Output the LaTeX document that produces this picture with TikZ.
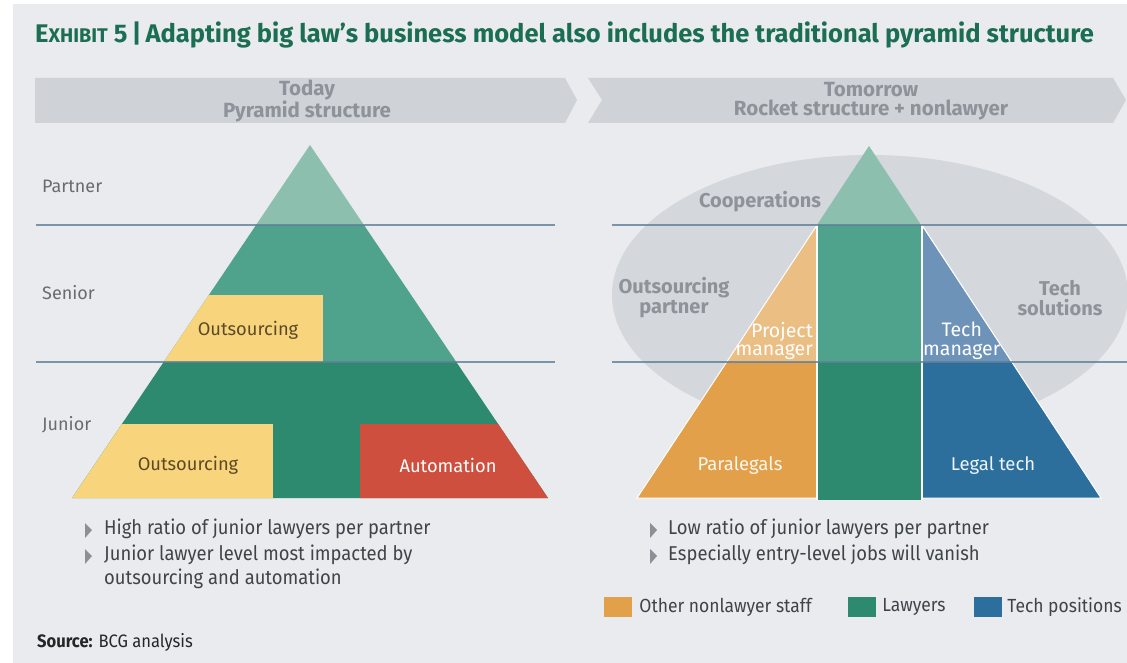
\documentclass[tikz,border=0pt]{standalone}
\usepackage{fontspec}
\setmainfont{Fira Sans}
\newfontfamily\narrowfont[FakeStretch=0.92]{Fira Sans}
\usetikzlibrary{positioning}

\definecolor{panelgray}{HTML}{E9EBEE}
\definecolor{bannergray}{HTML}{CFD3D8}
\definecolor{ellipsegray}{HTML}{D4D7DC}
\definecolor{titlegreen}{HTML}{1B6E51}
\definecolor{bannertext}{HTML}{8E939A}
\definecolor{labelgray}{HTML}{676C73}
\definecolor{lineblue}{HTML}{5F7F99}
\definecolor{greentop}{HTML}{8CBFAD}
\definecolor{greenmid}{HTML}{4FA38D}
\definecolor{greenlow}{HTML}{2E8A6F}
\definecolor{yellowbox}{HTML}{F8D47D}
\definecolor{outstext}{HTML}{5C4A26}
\definecolor{redbox}{HTML}{CE4F3D}
\definecolor{orangelight}{HTML}{EBBE84}
\definecolor{orangelow}{HTML}{E1A049}
\definecolor{bluelight}{HTML}{6D93B9}
\definecolor{bluelow}{HTML}{2C6E9C}
\definecolor{bullettext}{HTML}{3F444A}
\definecolor{bulletgray}{HTML}{8C9096}

\begin{document}
\begin{tikzpicture}[x=1pt, y=-1pt]
        \tikzstyle{lvl_label}  = [anchor=west, text=labelgray, inner sep=0pt, font=\fontsize{18}{20}\selectfont]
        \tikzstyle{banner_txt} = [align=center, text=bannertext, font=\bfseries\fontsize{20.5}{19.5}\selectfont]
        \tikzstyle{box_txt}    = [font=\fontsize{18.3}{20}\selectfont]
        \tikzstyle{cloud_txt}  = [align=center, text=bannertext, font=\bfseries\fontsize{20}{20}\selectfont]
        \tikzstyle{role_txt}   = [text=white, inner sep=0pt, font=\fontsize{19.5}{18.5}\selectfont]
        \tikzstyle{bullet_txt} = [anchor=base west, text=bullettext, inner sep=0pt, font=\narrowfont\fontsize{20}{24}\selectfont]
        \tikzstyle{key_txt}    = [anchor=west, text=bullettext, inner sep=0pt, font=\narrowfont\fontsize{19}{22}\selectfont]
        \tikzstyle{lvl_line}   = [draw=lineblue, line width=1.3pt, opacity=0.8]
        \tikzstyle{white_gap}  = [draw=white, line width=2.5pt]
        \tikzstyle{key_box}    = [minimum width=28pt, minimum height=20pt, inner sep=0pt]

        \useasboundingbox (0,0) rectangle (1127,663);
        \fill[panelgray] (13,4) rectangle (1127,663);

        % title
        \node[anchor=base west, inner sep=0pt, text=titlegreen, font=\bfseries\fontsize{25.5}{28}\selectfont]
          at (35,43) (title) {E{\fontsize{19.8}{22}\selectfont XHIBIT} 5\,|\,Adapting big law’s business model also includes the traditional pyramid structure};

        % banners
        \fill[bannergray] (35,78) -- (565,78) -- (577,100) -- (565,123) -- (35,123) -- cycle;
        \fill[bannergray] (588,78) -- (1113,78) -- (1126,100) -- (1113,123) -- (588,123) -- (602,100) -- cycle;
        \node[banner_txt] at (307,101) (today)    {Today\\Pyramid structure};
        \node[banner_txt] at (871,101) (tomorrow) {Tomorrow\\Rocket structure + nonlawyer};

        % today: pyramid
        \coordinate (l_apex) at (310,145);
        \coordinate (l_bl)   at (72,498);
        \coordinate (l_br)   at (548,498);
        \begin{scope}
          \clip (l_apex) -- (l_bl) -- (l_br) -- cycle;
          \fill[greentop]  (50,140) rectangle (570,225);
          \fill[greenmid]  (50,225) rectangle (570,362);
          \fill[greenlow]  (50,362) rectangle (570,500);
          \fill[yellowbox] (50,295) rectangle (323,362);
          \fill[yellowbox] (50,424) rectangle (273,500);
          \fill[redbox]    (360,424) rectangle (570,500);
        \end{scope}

        \draw[lvl_line] (36,225) -- (555,225);
        \draw[lvl_line] (36,362) -- (555,362);

        \node[lvl_label] at (42,186) (partner) {Partner};
        \node[lvl_label] at (42,293) (senior)  {Senior};
        \node[lvl_label] at (42,425) (junior)  {Junior};

        \node[box_txt, text=outstext] at (248,330) (outs_senior) {Outsourcing};
        \node[box_txt, text=outstext] at (188,465) (outs_junior) {Outsourcing};
        \node[box_txt, text=white]    at (448,465) (automation)  {Automation};

        % tomorrow: rocket
        \fill[ellipsegray] (870,295) ellipse [x radius=258, y radius=140];

        \coordinate (r_apex) at (869,146);
        \coordinate (r_bl)   at (637,498);
        \coordinate (r_br)   at (1101,498);
        \coordinate (c_tl)   at (817,225);
        \coordinate (c_tr)   at (922,225);
        \coordinate (c_bl)   at (817,500);
        \coordinate (c_br)   at (922,500);
        \begin{scope}
          \clip (r_apex) -- (r_bl) -- (c_bl |- r_bl) -- (c_bl) -- (c_br) -- (c_br |- r_br) -- (r_br) -- cycle;
          \fill[orangelight] (600,225) rectangle (817,362);
          \fill[orangelow]   (600,362) rectangle (817,500);
          \fill[greentop]    (817,140) rectangle (922,225);
          \fill[greenmid]    (817,225) rectangle (922,362);
          \fill[greenlow]    (817,362) rectangle (922,500);
          \fill[bluelight]   (922,225) rectangle (1120,362);
          \fill[bluelow]     (922,362) rectangle (1120,500);
        \end{scope}
        \draw[white_gap] (c_tl) -- (c_bl);
        \draw[white_gap] (c_tr) -- (c_br);
        \draw[draw=white, line width=1pt] (c_tl) -- (r_bl) -- (c_bl |- r_bl);
        \draw[draw=white, line width=1pt] (c_tr) -- (r_br) -- (c_br |- r_br);

        \draw[lvl_line] (612,225) -- (1127,225);
        \draw[lvl_line] (612,362) -- (1127,362);

        \node[cloud_txt] at (760,202) (coop)      {Cooperations};
        \node[cloud_txt] at (674,298) (outs_part) {Outsourcing\\partner};
        \node[cloud_txt] at (1060,298) (tech_sol) {Tech\\solutions};

        \node[role_txt, align=right, anchor=east] at (813,341) (proj_mgr) {Project\\manager};
        \node[role_txt, align=center, anchor=west] at (923,341) (tech_mgr) {Tech\\manager};
        \node[box_txt, font=\fontsize{18.5}{20}\selectfont, text=white!92!orangelow] at (740,466) (paralegals) {Paralegals};
        \node[box_txt, font=\fontsize{18.5}{20}\selectfont, text=white!92!bluelow]   at (993,466) (legal_tech) {Legal tech};

        % bullets
        \fill[bulletgray] (85,523) -- (92,530) -- (85,538) -- cycle;
        \fill[bulletgray] (85,549) -- (92,556) -- (85,564) -- cycle;
        \fill[bulletgray] (650,523) -- (657,530) -- (650,538) -- cycle;
        \fill[bulletgray] (650,549) -- (657,556) -- (650,564) -- cycle;
        \node[bullet_txt] at (104,534) (high)    {High ratio of junior lawyers per partner};
        \node[bullet_txt] at (104,560) (impact)  {Junior lawyer level most impacted by};
        \node[bullet_txt] at (104,584) (impact2) {outsourcing and automation};
        \node[bullet_txt] at (668,534) (low)     {Low ratio of junior lawyers per partner};
        \node[bullet_txt] at (668,560) (entry)   {Especially entry-level jobs will vanish};

        % legend
        \node[key_box, fill=orangelow] at (618,607) (key_other) {};
        \node[key_txt, right=7pt of key_other] (lbl_other) {Other nonlawyer staff};
        \node[key_box, fill=greenlow]  at (862,607) (key_law) {};
        \node[key_txt, right=6pt of key_law] (lbl_law) {Lawyers};
        \node[key_box, fill=bluelow]   at (988,607) (key_tech) {};
        \node[key_txt, right=5pt of key_tech] (lbl_tech) {Tech positions};

        % source
        \node[anchor=base west, inner sep=0pt, text=black!85, font=\narrowfont\fontsize{18}{20}\selectfont]
          at (37,647) (source) {\textbf{Source:} BCG analysis};
      \end{tikzpicture}
\end{document}
